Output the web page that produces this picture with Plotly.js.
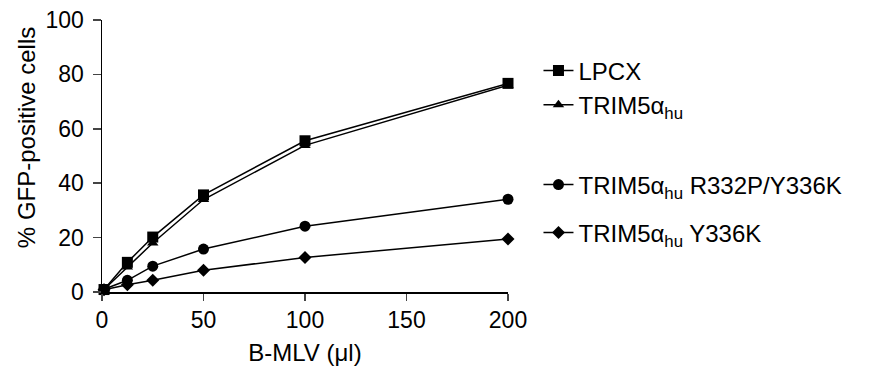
<!DOCTYPE html>
<html><head><meta charset="utf-8">
<script src="https://cdn.plot.ly/plotly-3.0.1.min.js"></script>
<style>html,body{margin:0;padding:0;background:#fff}#chart{width:877px;height:375px}</style>
</head><body><div id="chart"></div>
<script>
// B-MLV dose (µl)
const dose = [1, 12.5, 25, 50, 100, 200];
// % GFP-positive cells per construct
const lpcx = [0.9, 10.9, 20.2, 35.7, 55.6, 76.7];
const trimHu = [0.9, 9.2, 18.0, 34.0, 53.9, 76.0];
const trimR332PY336K = [1.0, 4.3, 9.5, 15.8, 24.2, 34.1];
const trimY336K = [0.8, 2.7, 4.3, 8.0, 12.7, 19.5];
const names = ['LPCX', 'TRIM5α<sub>hu</sub>', 'TRIM5α<sub>hu</sub> R332P/Y336K', 'TRIM5α<sub>hu</sub> Y336K'];
const xTicks = [0, 50, 100, 150, 200];
const yTicks = [0, 20, 40, 60, 80, 100];

const font = 'Liberation Sans, Arial, sans-serif';
function tr(y, name, sym, size, legend) {
  return {x: dose, y: y, name: name, type: 'scatter', mode: 'lines+markers',
    line: {color: '#000', width: 1.5}, marker: {symbol: sym, size: size, color: '#000'},
    cliponaxis: false, legend: legend};
}
const data = [
  tr(lpcx, names[0], 'square', 11, 'legend'),
  tr(trimHu, names[1], 'triangle-up', 10, 'legend'),
  tr(trimR332PY336K, names[2], 'circle', 11, 'legend2'),
  tr(trimY336K, names[3], 'diamond', 10, 'legend3')
];
const legBase = {xref: 'container', yref: 'container', x: 0.614, xanchor: 'left', yanchor: 'middle',
  bgcolor: 'rgba(0,0,0,0)', borderwidth: 0, font: {family: font, size: 24, color: '#000'}, itemwidth: 30};
const layout = {
  width: 877, height: 375,
  margin: {l: 101.7, r: 369.3, t: 20, b: 83.3},
  paper_bgcolor: '#fff', plot_bgcolor: '#fff',
  font: {family: font, color: '#000'},
  showlegend: true,
  legend: Object.assign({}, legBase, {y: 1 - 88/375, tracegroupgap: 0}),
  legend2: Object.assign({}, legBase, {y: 1 - 185/375}),
  legend3: Object.assign({}, legBase, {y: 1 - 233/375}),
  xaxis: {range: [0, 200], tickvals: xTicks, ticks: 'outside', ticklen: 7, tickwidth: 1.5,
    showline: true, linewidth: 1.5, linecolor: '#000', showgrid: false, zeroline: false,
    tickfont: {family: font, size: 23, color: '#000'},
    title: {text: 'B-MLV (μl)', font: {family: font, size: 24, color: '#000'}, standoff: 12}},
  yaxis: {range: [0, 100], tickvals: yTicks, ticks: 'outside', ticklen: 8, tickwidth: 1.5,
    showline: true, linewidth: 1.5, linecolor: '#000', showgrid: false, zeroline: false,
    ticklabelstandoff: 4,
    tickfont: {family: font, size: 23, color: '#000'}},
  annotations: [{text: '% GFP-positive cells', textangle: -90, xref: 'paper', yref: 'paper',
    x: -76/406, y: (291.7 - 138) / 271.7, xanchor: 'center', yanchor: 'middle', showarrow: false,
    font: {family: font, size: 24, color: '#000'}}]
};
Plotly.newPlot('chart', data, layout, {displayModeBar: false, staticPlot: true});
</script></body></html>
